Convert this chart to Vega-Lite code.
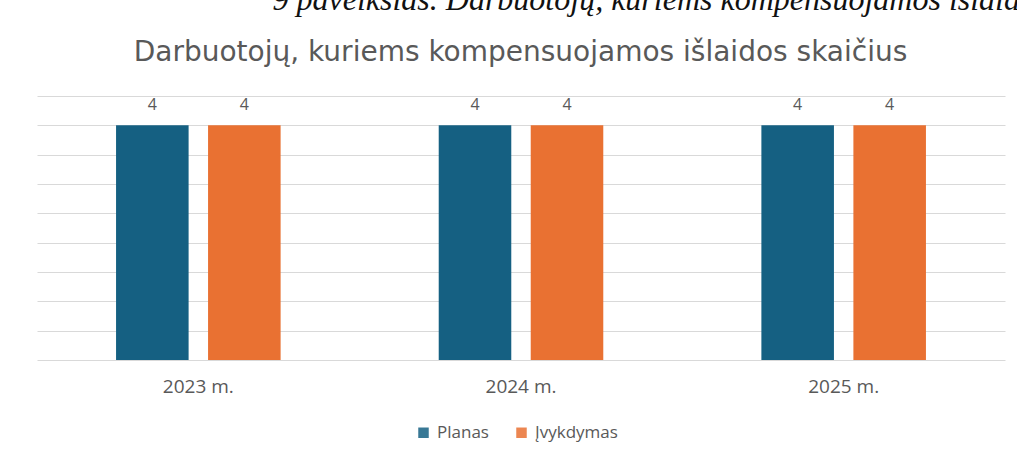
{
  "$schema": "https://vega.github.io/schema/vega-lite/v6.json",
  "width": 968,
  "height": 264,
  "autosize": {"type": "none"},
  "padding": {"left": 37, "top": 96, "right": 12, "bottom": 95},
  "background": "white",
  "config": {"view": {"stroke": null}},
  "data": {
    "values": [
      {"year": "2023 m.", "series": "Planas", "value": 4},
      {"year": "2023 m.", "series": "Įvykdymas", "value": 4},
      {"year": "2024 m.", "series": "Planas", "value": 4},
      {"year": "2024 m.", "series": "Įvykdymas", "value": 4},
      {"year": "2025 m.", "series": "Planas", "value": 4},
      {"year": "2025 m.", "series": "Įvykdymas", "value": 4}
    ]
  },
  "encoding": {
    "x": {
      "field": "year",
      "type": "nominal",
      "scale": {"paddingInner": 0.49, "paddingOuter": 0.245},
      "axis": {
        "title": "9 paveikslas. Darbuotojų, kuriems kompensuojamos išlaidos skaičius",
        "titleFont": "Liberation Serif",
        "titleFontStyle": "italic",
        "titleFontWeight": "normal",
        "titleFontSize": 32,
        "titleColor": "#111111",
        "titleAlign": "left",
        "titleBaseline": "alphabetic",
        "titleX": 235,
        "titleY": -351,
        "labelAngle": 0,
        "labelFont": "Open Sans",
        "labelFontSize": 19,
        "labelColor": "#595959",
        "labelPadding": 17,
        "ticks": false,
        "domain": false,
        "grid": false
      }
    },
    "xOffset": {
      "field": "series",
      "sort": ["Planas", "Įvykdymas"],
      "scale": {"paddingInner": 0.2114, "paddingOuter": 0}
    },
    "y": {
      "field": "value",
      "type": "quantitative",
      "scale": {"domain": [0, 4.5], "nice": false},
      "axis": {
        "title": "Darbuotojų, kuriems kompensuojamos išlaidos skaičius",
        "titleAngle": 0,
        "titleX": 483,
        "titleY": -36,
        "titleAlign": "center",
        "titleBaseline": "alphabetic",
        "titleFont": "DejaVu Sans",
        "titleFontSize": 28,
        "titleFontWeight": "normal",
        "titleColor": "#595959",
        "labels": false,
        "ticks": false,
        "domain": false,
        "grid": true,
        "gridColor": "#d9d9d9",
        "gridWidth": 1.2,
        "values": [0, 0.5, 1, 1.5, 2, 2.5, 3, 3.5, 4, 4.5]
      }
    }
  },
  "layer": [
    {
      "mark": {"type": "bar"},
      "encoding": {
        "color": {
          "field": "series",
          "type": "nominal",
          "sort": ["Planas", "Įvykdymas"],
          "scale": {"domain": ["Planas", "Įvykdymas"], "range": ["#156082", "#E97132"]},
          "legend": {
            "orient": "none",
            "legendX": 378,
            "legendY": 328,
            "direction": "horizontal",
            "title": null,
            "symbolType": "square",
            "symbolSize": 110,
            "symbolStrokeWidth": 0,
            "symbolOpacity": 0.85,
            "labelFont": "Open Sans",
            "labelFontSize": 17,
            "labelColor": "#595959",
            "labelOffset": 5,
            "columnPadding": 24
          }
        }
      }
    },
    {
      "mark": {"type": "text", "dy": -15, "baseline": "alphabetic", "font": "Open Sans", "fontSize": 16, "color": "#595959"},
      "encoding": {"text": {"field": "value", "type": "quantitative"}}
    }
  ]
}
